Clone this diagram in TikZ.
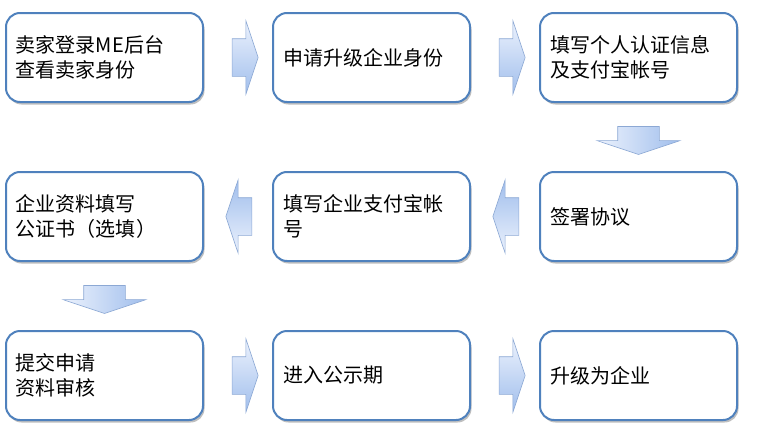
\documentclass[tikz,border=0pt]{standalone}
\usepackage{fontspec}
\setmainfont{Noto Sans CJK SC}
\usetikzlibrary{positioning,shapes.arrows,shadows,calc}
\definecolor{borde}{RGB}{79,129,189}
\definecolor{bordeflecha}{RGB}{140,168,212}
\definecolor{flechaclara}{RGB}{236,242,253}
\definecolor{flechaoscura}{RGB}{160,190,236}
\begin{document}
\begin{tikzpicture}[x=1pt, y=-1pt,
    caja/.style={draw=borde, line width=2pt, rounded corners=14pt, fill=white,
        text width=177pt, inner sep=10pt, outer sep=0pt, minimum height=89pt,
        align=left, font=\fontsize{20}{25}\selectfont,
        drop shadow={shadow xshift=1.5pt, shadow yshift=-2.5pt, opacity=0.25, fill=black}},
    flecha/.style={single arrow, draw=bordeflecha, line width=0.6pt,
        inner xsep=0pt, inner ysep=18.5pt, minimum height=26pt,
        single arrow head extend=18pt, single arrow tip angle=143},
    derecha/.style={flecha, top color=flechaclara, bottom color=flechaoscura},
    izquierda/.style={flecha, rotate=180, top color=flechaoscura, bottom color=flechaclara},
    abajo/.style={flecha, rotate=-90, inner ysep=20.5pt, minimum height=28pt,
        single arrow head extend=20.5pt, left color=flechaclara, right color=flechaoscura}]
    \useasboundingbox (0,0) rectangle (760,439);

    % Primera fila
    \node[caja] (login) at (104.5,57.5) {卖家登录ME后台\\查看卖家身份};
    \node[caja, right=70pt of login] (solicitar) {申请升级企业身份};
    \node[caja, right=70pt of solicitar] (personal) {填写个人认证信息\\及支付宝帐号};

    % Segunda fila (de derecha a izquierda)
    \node[caja, below=70pt of personal] (firmar) {签署协议};
    \node[caja, left=70pt of firmar] (alipay) {填写企业支付宝帐\\号};
    \node[caja, left=70pt of alipay] (empresa) {企业资料填写\\公证书（选填）};

    % Tercera fila
    \node[caja, below=70pt of empresa] (revision) {提交申请\\资料审核};
    \node[caja, right=70pt of revision] (publico) {进入公示期};
    \node[caja, right=70pt of publico] (mejora) {升级为企业};

    % Flechas
    \node[derecha] (f1) at ($(login.east)!0.5!(solicitar.west)+(4,0)$) {};
    \node[derecha] (f2) at ($(solicitar.east)!0.5!(personal.west)+(4,0)$) {};
    \node[abajo] (f3) at ($(personal.south)!0.5!(firmar.north)$) {};
    \node[izquierda] (f4) at ($(firmar.west)!0.5!(alipay.east)+(4,0)$) {};
    \node[izquierda] (f5) at ($(alipay.west)!0.5!(empresa.east)+(4,0)$) {};
    \node[abajo] (f6) at ($(empresa.south)!0.5!(revision.north)$) {};
    \node[derecha] (f7) at ($(revision.east)!0.5!(publico.west)+(4,0)$) {};
    \node[derecha] (f8) at ($(publico.east)!0.5!(mejora.west)+(4,0)$) {};
\end{tikzpicture}
\end{document}
